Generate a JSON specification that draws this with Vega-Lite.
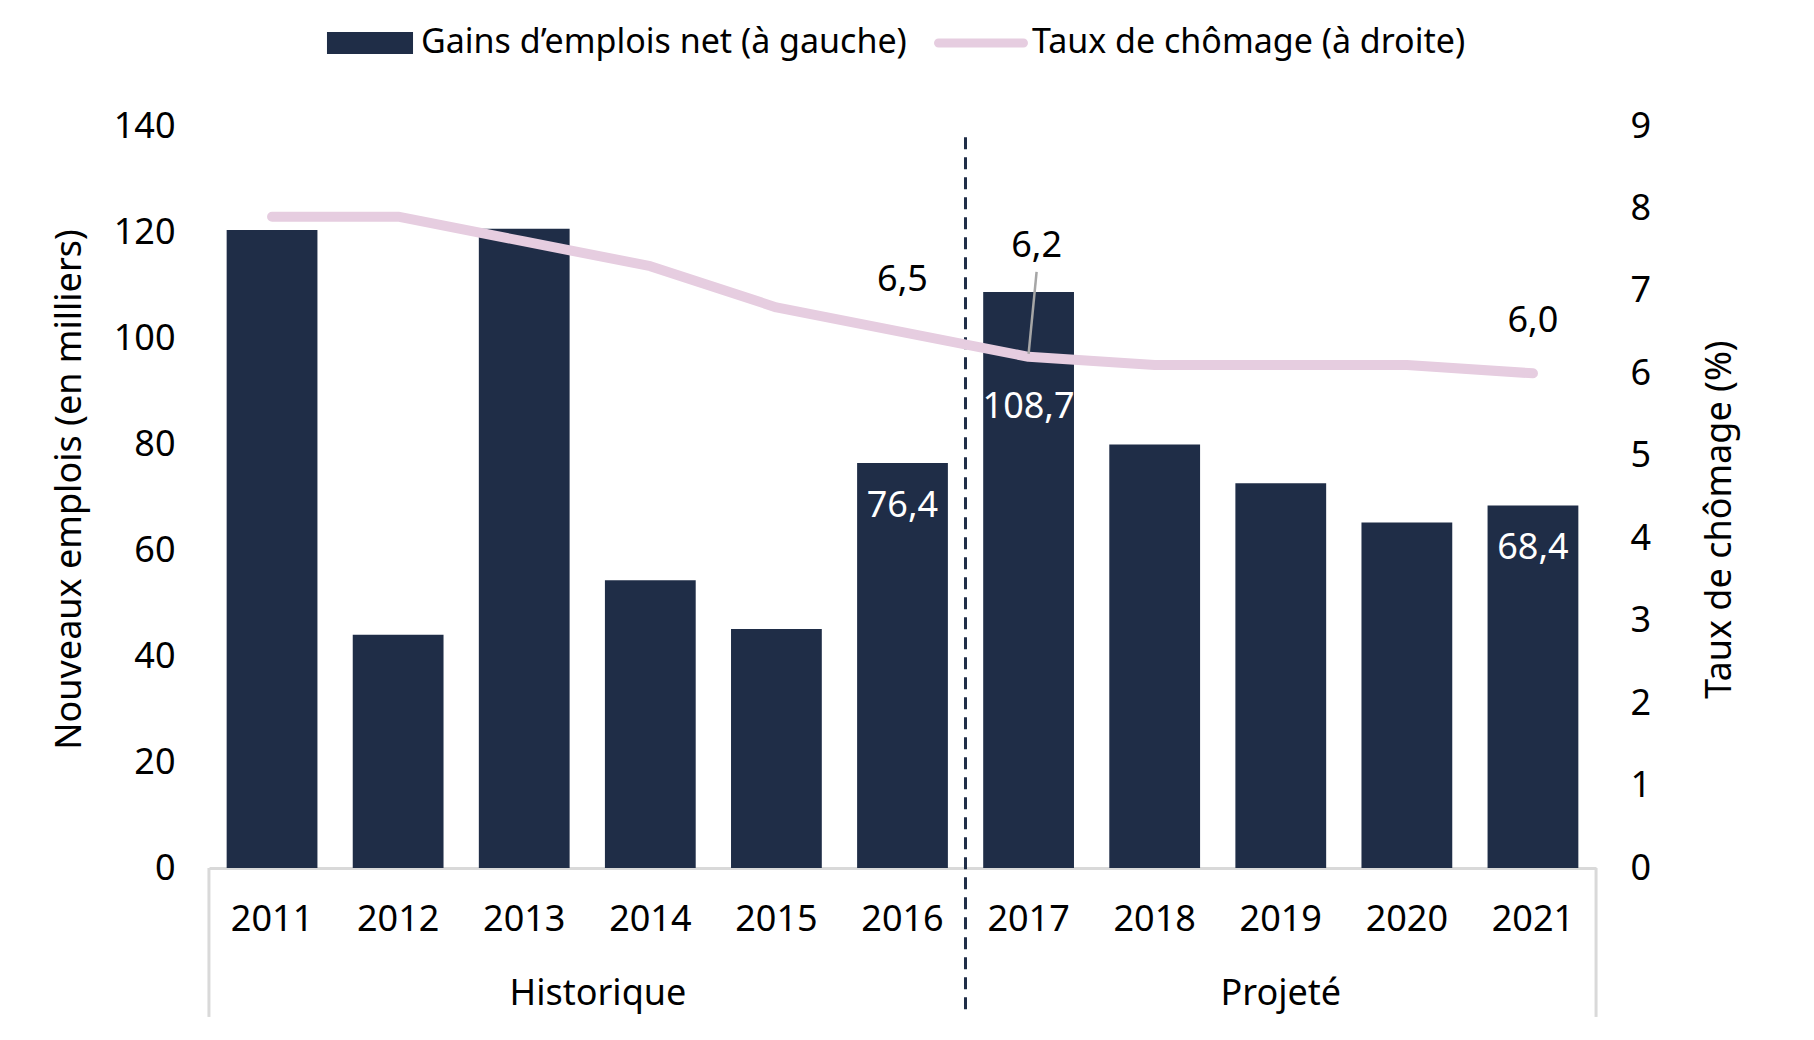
{
  "$schema": "https://vega.github.io/schema/vega-lite/v6.json",
  "width": 1387,
  "height": 742,
  "autosize": {"type": "none"},
  "padding": {"left": 209, "top": 126, "right": 218, "bottom": 172},
  "background": "white",
  "config": {
    "view": {"stroke": null},
    "font": "Noto Sans",
    "locale": {"number": {"decimal": ",", "thousands": " ", "grouping": [3], "currency": ["", " $"]}},
    "axis": {"labelFont": "Noto Sans", "titleFont": "Noto Sans", "labelColor": "#000000", "titleColor": "#000000", "labelFontSize": 36, "titleFontSize": 36, "titleFontWeight": "normal", "grid": false, "ticks": false},
    "text": {"font": "Noto Sans", "fontSize": 36}
  },
  "data": {
    "values": [
      {"year": "2011", "emplois": 120.4, "chomage": 7.9, "periode": "Historique"},
      {"year": "2012", "emplois": 44.0, "chomage": 7.9, "periode": "Historique"},
      {"year": "2013", "emplois": 120.6, "chomage": 7.6, "periode": "Historique"},
      {"year": "2014", "emplois": 54.3, "chomage": 7.3, "periode": "Historique"},
      {"year": "2015", "emplois": 45.1, "chomage": 6.8, "periode": "Historique"},
      {"year": "2016", "emplois": 76.4, "chomage": 6.5, "periode": "Historique"},
      {"year": "2017", "emplois": 108.7, "chomage": 6.2, "periode": "Projeté"},
      {"year": "2018", "emplois": 79.9, "chomage": 6.1, "periode": "Projeté"},
      {"year": "2019", "emplois": 72.6, "chomage": 6.1, "periode": "Projeté"},
      {"year": "2020", "emplois": 65.2, "chomage": 6.1, "periode": "Projeté"},
      {"year": "2021", "emplois": 68.4, "chomage": 6.0, "periode": "Projeté"}
    ]
  },
  "layer": [
    {
      "layer": [
        {
          "mark": {"type": "bar"},
          "encoding": {
            "x": {
              "field": "year", "type": "nominal",
              "scale": {"paddingInner": 0.28, "paddingOuter": 0.14},
              "axis": {"title": null, "labelAngle": 0, "labelBaseline": "alphabetic", "labelPadding": 62, "domainColor": "#d9d9d9", "domainWidth": 3}
            },
            "y": {
              "field": "emplois", "type": "quantitative",
              "scale": {"domain": [0, 140], "nice": false},
              "axis": {"orient": "left", "values": [0, 20, 40, 60, 80, 100, 120, 140], "format": "d", "domain": false, "labelPadding": 34, "title": "Nouveaux emplois (en milliers)", "titleAngle": 270, "titleX": -129, "titleY": 363, "titleBaseline": "alphabetic", "titleAlign": "center"}
            },
            "color": {
              "datum": "Gains d’emplois net (à gauche)",
              "scale": {"domain": ["Gains d’emplois net (à gauche)", "Taux de chômage (à droite)"], "range": ["#1f2d47", "#e6cde0"]},
              "legend": {
                "title": null, "orient": "none", "direction": "horizontal",
                "legendX": 116, "legendY": -128,
                "labelFontSize": 34, "labelFont": "Noto Sans", "labelColor": "#000000", "labelLimit": 0,
                "symbolSize": 8100, "labelOffset": 6, "columnPadding": 27,
                "encode": {
                  "symbols": {
                    "update": {
                      "shape": {"signal": "indexof(datum.value, 'Gains') === 0 ? 'M-0.956,-0.244H0.956V0.244H-0.956Z' : 'M-0.944,-0.1H0.944A0.1,0.1,0,0,1,0.944,0.1H-0.944A0.1,0.1,0,0,1,-0.944,-0.1Z'"},
                      "fill": {"signal": "indexof(datum.value, 'Gains') === 0 ? '#1f2d47' : '#e6cde0'"},
                      "stroke": {"value": "transparent"},
                      "strokeWidth": {"value": 0},
                      "opacity": {"value": 1}
                    }
                  }
                }
              }
            }
          }
        },
        {
          "transform": [{"filter": "datum.year === '2016' || datum.year === '2021'"}],
          "mark": {"type": "text", "color": "white", "fontSize": 36, "baseline": "middle", "dy": 43},
          "encoding": {
            "x": {"field": "year", "type": "nominal"},
            "y": {"field": "emplois", "type": "quantitative"},
            "text": {"field": "emplois", "type": "quantitative", "format": ".1f"}
          }
        },
        {
          "transform": [{"filter": "datum.year === '2017'"}],
          "mark": {"type": "text", "color": "white", "fontSize": 36, "baseline": "middle", "dy": 115},
          "encoding": {
            "x": {"field": "year", "type": "nominal"},
            "y": {"field": "emplois", "type": "quantitative"},
            "text": {"field": "emplois", "type": "quantitative", "format": ".1f"}
          }
        },
        {
          "data": {"values": [{"sep": "Historique | Projeté"}]},
          "mark": {"type": "rule", "color": "#1f2d47", "strokeWidth": 3, "strokeDash": [12, 8], "xOffset": -17.7},
          "encoding": {
            "x": {"datum": "2017", "type": "nominal", "bandPosition": 0},
            "y": {"datum": 137.9, "type": "quantitative"},
            "y2": {"datum": -28.1}
          }
        },
        {
          "data": {"values": [{"edge": "left"}]},
          "mark": {"type": "rule", "color": "#d9d9d9", "strokeWidth": 3, "xOffset": -17.7},
          "encoding": {
            "x": {"datum": "2011", "type": "nominal", "bandPosition": 0},
            "y": {"datum": 0, "type": "quantitative"},
            "y2": {"datum": -28.1}
          }
        },
        {
          "data": {"values": [{"edge": "right"}]},
          "mark": {"type": "rule", "color": "#d9d9d9", "strokeWidth": 3, "xOffset": 17.7},
          "encoding": {
            "x": {"datum": "2021", "type": "nominal", "bandPosition": 1},
            "y": {"datum": 0, "type": "quantitative"},
            "y2": {"datum": -28.1}
          }
        },
        {
          "data": {"values": [{"groupe": "Historique"}]},
          "mark": {"type": "text", "color": "#000000", "fontSize": 36, "baseline": "alphabetic", "dx": -7},
          "encoding": {
            "x": {"datum": "2014", "type": "nominal", "bandPosition": 0},
            "y": {"datum": -25.8, "type": "quantitative"},
            "text": {"field": "groupe", "type": "nominal"}
          }
        },
        {
          "data": {"values": [{"groupe": "Projeté"}]},
          "mark": {"type": "text", "color": "#000000", "fontSize": 36, "baseline": "alphabetic"},
          "encoding": {
            "x": {"datum": "2019", "type": "nominal", "bandPosition": 0.5},
            "y": {"datum": -25.8, "type": "quantitative"},
            "text": {"field": "groupe", "type": "nominal"}
          }
        }
      ]
    },
    {
      "layer": [
        {
          "mark": {"type": "line", "strokeWidth": 10, "strokeCap": "round", "strokeJoin": "round"},
          "encoding": {
            "x": {"field": "year", "type": "nominal"},
            "y": {
              "field": "chomage", "type": "quantitative",
              "scale": {"domain": [0, 9], "nice": false},
              "axis": {"orient": "right", "values": [0, 1, 2, 3, 4, 5, 6, 7, 8, 9], "format": "d", "domain": false, "labelPadding": 34, "title": "Taux de chômage (%)", "titleAngle": 270, "titleX": 134, "titleY": 393, "titleBaseline": "alphabetic", "titleAlign": "center"}
            },
            "color": {"datum": "Taux de chômage (à droite)"}
          }
        },
        {
          "transform": [{"filter": "datum.year === '2016' || datum.year === '2021'"}],
          "mark": {"type": "text", "color": "#000000", "fontSize": 36, "baseline": "middle", "dy": -52},
          "encoding": {
            "x": {"field": "year", "type": "nominal"},
            "y": {"field": "chomage", "type": "quantitative"},
            "text": {"field": "chomage", "type": "quantitative", "format": ".1f"}
          }
        },
        {
          "transform": [{"filter": "datum.year === '2017'"}],
          "mark": {"type": "text", "color": "#000000", "fontSize": 36, "baseline": "middle", "dy": -111, "dx": 8},
          "encoding": {
            "x": {"field": "year", "type": "nominal"},
            "y": {"field": "chomage", "type": "quantitative"},
            "text": {"field": "chomage", "type": "quantitative", "format": ".1f"}
          }
        },
        {
          "transform": [{"filter": "datum.year === '2017'"}],
          "mark": {"type": "rule", "color": "#a6a6a6", "strokeWidth": 2.5, "yOffset": -3, "y2Offset": -85, "x2Offset": 8},
          "encoding": {
            "x": {"field": "year", "type": "nominal", "bandPosition": 0.5},
            "x2": {"field": "year"},
            "y": {"field": "chomage", "type": "quantitative"},
            "y2": {"field": "chomage"}
          }
        }
      ]
    }
  ],
  "resolve": {"scale": {"y": "independent"}}
}
